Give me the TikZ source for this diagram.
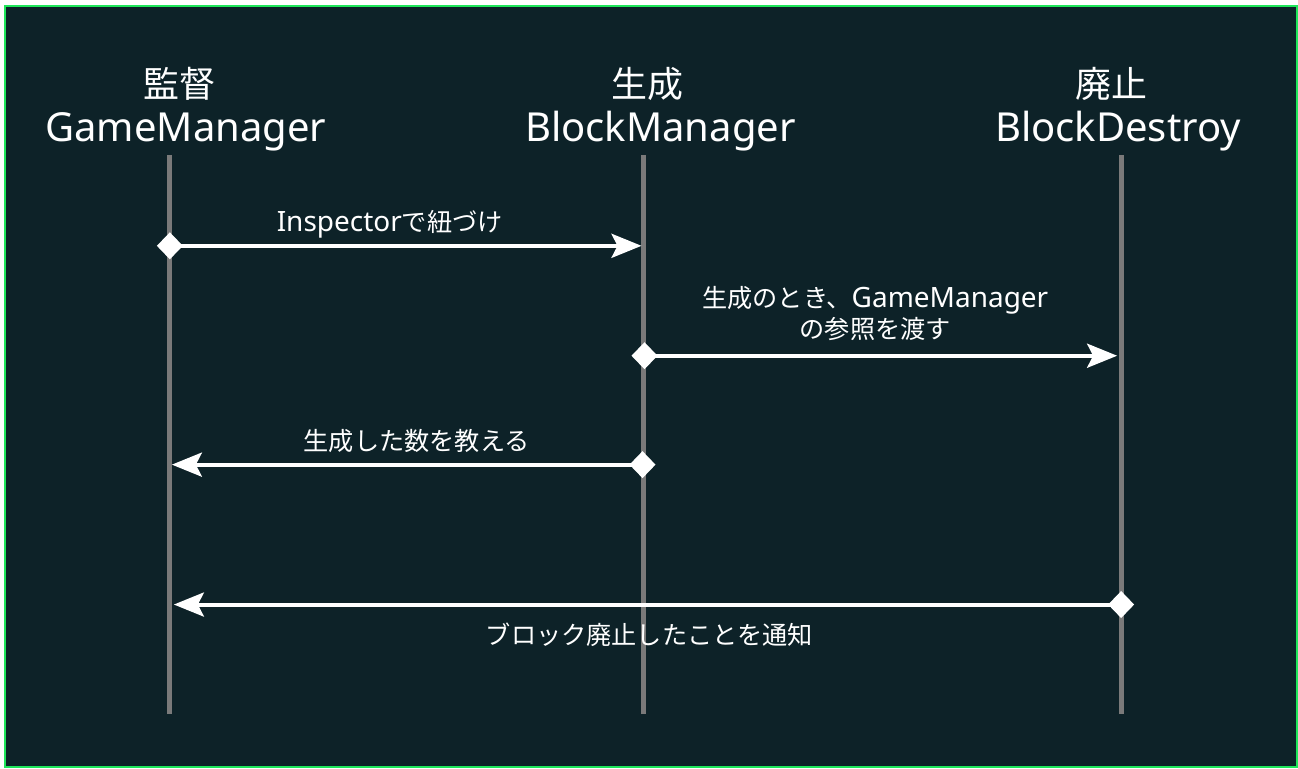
\documentclass[tikz,border=0pt]{standalone}
\usepackage{fontspec}
\setmainfont{Noto Sans}
\newfontfamily\jp[Scale=0.9]{Noto Sans CJK JP}
\usetikzlibrary{arrows.meta}
\definecolor{seqBack}{RGB}{13,34,40}
\definecolor{seqFrame}{RGB}{30,230,90}
\definecolor{seqLine}{RGB}{122,122,122}

\begin{document}
\begin{tikzpicture}[
    x=1pt, y=-1pt,
    headtext/.style={text=white, font=\fontsize{40}{48}\selectfont, inner sep=0pt, anchor=base},
    msgtext/.style={text=white, font=\fontsize{28}{34}\selectfont, inner sep=0pt, anchor=base},
    life/.style={draw=seqLine, line width=5pt},
    msg/.style={draw=white, line width=4pt, {Diamond[length=26pt,width=27pt]}-{Stealth[length=30pt,width=24pt,inset=6pt]}, shorten <=-13pt, shorten >=2pt}
]

% Background
\fill[white] (0,0) rectangle (1298,769);
\draw[seqFrame, line width=2pt, fill=seqBack] (5,6) rectangle (1298,768);

% Participants
\node[headtext] (gmRole) at (180,98)  {\jp 監督};
\node[headtext] (gm)     at (186,142) {GameManager};
\node[headtext] (bmRole) at (648,98)  {\jp 生成};
\node[headtext] (bm)     at (661,142) {BlockManager};
\node[headtext] (bdRole) at (1112,98) {\jp 廃止};
\node[headtext] (bd)     at (1119,142) {BlockDestroy};

% Lifelines
\coordinate (gmTop) at (170,155);
\coordinate (gmEnd) at (170,715);
\coordinate (bmTop) at (644,155);
\coordinate (bmEnd) at (644,715);
\coordinate (bdTop) at (1122,155);
\coordinate (bdEnd) at (1122,715);

\draw[life] (gmTop) -- (gmEnd);
\draw[life] (bmTop) -- (bmEnd);
\draw[life] (bdTop) -- (bdEnd);

% Message points
\coordinate (gmLink)    at (170,246);
\coordinate (bmLink)    at (644,246);
\coordinate (bmSpawn)   at (645,356);
\coordinate (bdSpawn)   at (1120,356);
\coordinate (bmCount)   at (643,465);
\coordinate (gmCount)   at (170,465);
\coordinate (bdNotify)  at (1122,605);
\coordinate (gmNotify)  at (172,605);

% Messages
\draw[msg] (gmLink) -- (bmLink);
\draw[msg] (bmSpawn) -- (bdSpawn);
\draw[msg] (bmCount) -- (gmCount);
\draw[msg] (bdNotify) -- (gmNotify);

% Message labels
\node[msgtext] (linkText)   at (390,232) {Inspector{\jp で紐づけ}};
\node[msgtext] (spawnText)  at (876,308) {{\jp 生成のとき、}GameManager};
\node[msgtext] (spawnText2) at (876,339) {\jp の参照を渡す};
\node[msgtext] (countText)  at (417,451) {\jp 生成した数を教える};
\node[msgtext] (notifyText) at (650,645) {\jp ブロック廃止したことを通知};

\end{tikzpicture}
\end{document}
